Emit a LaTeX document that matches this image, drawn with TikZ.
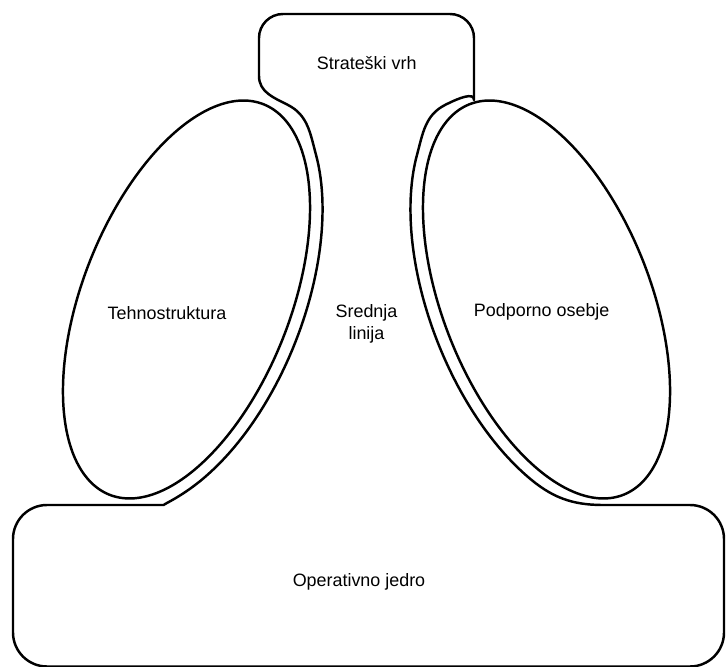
\documentclass[tikz,border=0pt]{standalone}
\usepackage{fontspec}
\setmainfont{Liberation Sans}
\usepackage{tikz}
\usetikzlibrary{calc, positioning}

\begin{document}
\begin{tikzpicture}[x=0.02cm, y=0.02cm,
    outline/.style={line width=1.4pt, line join=round},
    lbl/.style={font=\fontsize{10.2}{13}\selectfont, inner sep=0pt, anchor=base, align=center}]

    \useasboundingbox (0,0) rectangle (726,666);

    % =================================================================
    % 1. ZUNANJI OBRIS (vrh + srednja linija + jedro)
    % =================================================================
    \draw[outline]
        (259,590) [rounded corners=0.48cm] -- (259,652) -- (474,652) -- (474,590) [sharp corners]
        to[out=-90, in=27] (445,561)
        to[out=207, in=75] (417.2,511.9)
        -- plot[domain=-35:-135, samples=50, variable=\t]
            ({546.5-81.7*cos(\t)+108.8*sin(\t)}, {366.5+207.4*cos(\t)+42.8*sin(\t)})
        to[out=-41, in=180] (603,161)
        [rounded corners=0.68cm] -- (724,161) -- (724,-0.5) -- (13,-0.5) -- (13,161) -- (130,161) [sharp corners]
        to[out=0, in=221] (205.6,189.5)
        -- plot[domain=-135:-35, samples=50, variable=\t]
            ({186.5+81.7*cos(\t)-108.8*sin(\t)}, {366.5+207.4*cos(\t)+42.8*sin(\t)})
        to[out=105, in=-27] (288,561)
        to[out=153, in=-90] (259,590) -- cycle;

    % =================================================================
    % 2. ELIPSI
    % =================================================================
    % Tehnostruktura
    \draw[outline] plot[domain=0:360, samples=120, smooth, variable=\t]
        ({186.5+76.9*cos(\t)-96.7*sin(\t)}, {366.5+195.3*cos(\t)+38.1*sin(\t)}) -- cycle;
    % Podporno osebje
    \draw[outline] plot[domain=0:360, samples=120, smooth, variable=\t]
        ({546.5-76.9*cos(\t)+96.7*sin(\t)}, {366.5+195.3*cos(\t)+38.1*sin(\t)}) -- cycle;

    % =================================================================
    % 3. NAPISI
    % =================================================================
    \node[lbl] (vrh) at (366.7,596) {Strateški vrh};
    \node[lbl] (tehno) at (167,346.7) {Tehnostruktura};
    \node[lbl] (srednja) at (366.5,326) {Srednja\\linija};
    \node[lbl] (podporno) at (541.7,349.3) {Podporno osebje};
    \node[lbl] (jedro) at (359,79.3) {Operativno jedro};

\end{tikzpicture}
\end{document}
